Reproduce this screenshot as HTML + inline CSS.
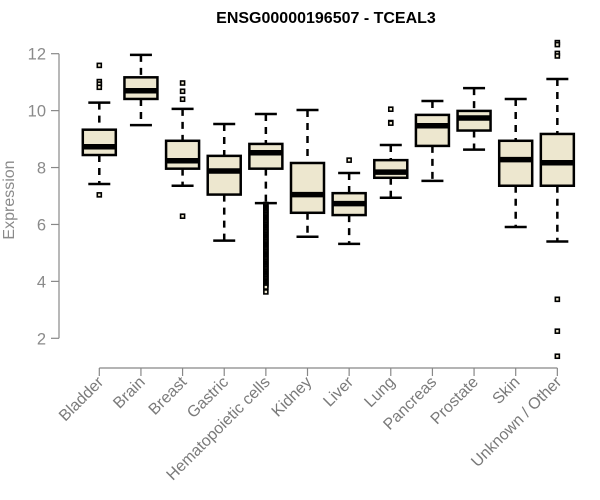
<!DOCTYPE html>
<html><head><meta charset="utf-8"><style>
body{margin:0;background:#fff}
svg{display:block;font-family:"Liberation Sans",Arial,sans-serif}
</style></head><body>
<svg id="chart" width="600" height="500">
<text x="326" y="23" text-anchor="middle" font-weight="bold" font-size="16" fill="#000">ENSG00000196507 - TCEAL3</text>
<text transform="translate(14,200) rotate(-90)" text-anchor="middle" font-size="16" fill="#8a8a8a">Expression</text>
<g id="plot"></g>
</svg>
<script>
const categories=["Bladder","Brain","Breast","Gastric","Hematopoietic cells","Kidney","Liver","Lung","Pancreas","Prostate","Skin","Unknown / Other"];
const lowerWhisker=[7.42,9.49,7.36,5.43,6.75,5.57,5.32,6.94,7.53,8.63,5.91,5.40];
const q1=[8.44,10.41,7.96,7.05,7.96,6.41,6.33,7.64,8.76,9.30,7.36,7.36];
const medians=[8.73,10.70,8.24,7.88,8.52,7.05,6.73,7.84,9.47,9.74,8.28,8.17];
const q3=[9.33,11.17,8.94,8.41,8.83,8.16,7.10,8.26,9.85,9.99,8.94,9.18];
const upperWhisker=[10.28,11.96,10.06,9.53,9.88,10.02,7.81,8.79,10.34,10.79,10.41,11.11];
const outliers=[[11.59,11.02,10.93,10.82,7.04],[],[10.97,10.68,10.40,6.29],[],
[6.7,6.65,6.6,6.55,6.5,6.45,6.4,6.35,6.3,6.25,6.2,6.15,6.1,6.05,6.0,5.95,5.9,5.85,5.8,5.75,5.7,5.65,5.6,5.55,5.5,5.45,5.4,5.35,5.3,5.25,5.2,5.15,5.1,5.05,5.0,4.95,4.9,4.85,4.8,4.75,4.7,4.65,4.6,4.55,4.5,4.45,4.4,4.35,4.3,4.25,4.2,4.15,4.1,4.05,4.0,3.95,3.9,3.85,3.8,3.63],
[],[8.26],[10.05,9.58,9.56],[],[],[],[12.39,12.32,12.01,11.92,3.37,2.25,1.37]];
const yTicks=[2,4,6,8,10,12];

const NS="http://www.w3.org/2000/svg";
const g=document.getElementById('plot');
const y=v=>338.3-(v-2)*28.46;
const x=i=>99.3+41.64*i;
function mk(t,a,p){const e=document.createElementNS(NS,t);for(const k in a)e.setAttribute(k,a[k]);(p||g).appendChild(e);return e;}
let ax=mk('line',{x1:59,x2:59,y1:y(12),y2:y(2),stroke:'#888','stroke-width':1.2});


yTicks.forEach(t=>{
  const tk=mk('line',{x1:51,x2:59,y1:y(t),y2:y(t),stroke:'#888','stroke-width':1.2});
  
  
  const tl=mk('text',{x:46,y:y(t)+6,'text-anchor':'end','font-size':16.5,fill:'#8a8a8a'});
  tl.textContent=t;
  
  
});
let xa=mk('line',{x1:x(0),x2:x(categories.length-1),y1:368,y2:368,stroke:'#888','stroke-width':1.2});


categories.forEach((c,i)=>{
  const cx=x(i);
  const tk=mk('line',{x1:cx,x2:cx,y1:368,y2:376,stroke:'#888','stroke-width':1.2});
  
  
  const tl=mk('text',{transform:`translate(${cx+5},${383}) rotate(-45)`,'text-anchor':'end','font-size':16,fill:'#7a7a7a'});
  tl.textContent=c;
  
  
  const bg=mk('g',{});
  
  
  const w=16.5,cw=11;
  mk('line',{x1:cx,x2:cx,y1:y(upperWhisker[i]),y2:y(q3[i]),stroke:'#000','stroke-width':2.5,'stroke-dasharray':'7,6'},bg);
  mk('line',{x1:cx,x2:cx,y1:y(q1[i]),y2:y(lowerWhisker[i]),stroke:'#000','stroke-width':2.5,'stroke-dasharray':'7,6'},bg);
  mk('line',{x1:cx-cw,x2:cx+cw,y1:y(upperWhisker[i]),y2:y(upperWhisker[i]),stroke:'#000','stroke-width':2.5},bg);
  mk('line',{x1:cx-cw,x2:cx+cw,y1:y(lowerWhisker[i]),y2:y(lowerWhisker[i]),stroke:'#000','stroke-width':2.5},bg);
  mk('rect',{x:cx-w,y:y(q3[i]),width:2*w,height:y(q1[i])-y(q3[i]),fill:'#ede7cf',stroke:'#000','stroke-width':2.5},bg);
  mk('line',{x1:cx-w,x2:cx+w,y1:y(medians[i]),y2:y(medians[i]),stroke:'#000','stroke-width':5.5},bg);
  outliers[i].forEach(v=>{
    const o=mk('rect',{x:cx-2,y:y(v)-2,width:4,height:4,fill:'#ede7cf',stroke:'#000','stroke-width':1.6},bg);
    
    
  });
});
</script>
</body></html>
